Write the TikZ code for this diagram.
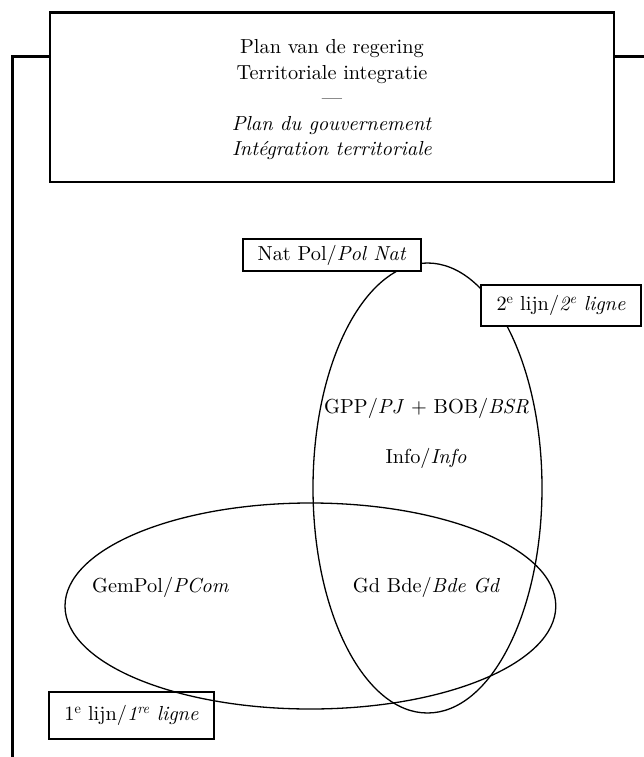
\documentclass[tikz,border=0pt]{standalone}
\usepackage{fontspec}
% the 10pt design of Latin Modern keeps its heavier strokes at large sizes
\setmainfont{lmroman10}[Extension=.otf, UprightFont=*-regular, ItalicFont=*-italic]
\usetikzlibrary{shapes.geometric}
\begin{document}
\begin{tikzpicture}[x=1pt,y=-1pt,
  every node/.style={font=\fontsize{20.3}{25.5}\selectfont, inner sep=0pt},
  frame/.style={draw, line width=2.6pt, outer sep=0pt, minimum width=564pt, minimum height=169.3pt},
  tag/.style={draw, line width=2.6pt},
  ring/.style={draw, ellipse, line width=1.3pt},
  link/.style={line width=2.6pt},
]
\useasboundingbox (0,0) rectangle (644,757);

% the two overlapping policy levels
\node[ring, minimum width=229pt, minimum height=450pt] (nat) at (427.5,488) {};
\node[ring, minimum width=490.8pt, minimum height=206pt] (gem) at (310.4,606) {};

% government plan heading box
\node[frame] (plan) at (332,97.35) {};
\node[align=center] (title) at (332,99.7) {Plan van de regering\\Territoriale integratie\\—\\\textit{Plan du gouvernement}\\\textit{Intégration territoriale}};

% bracket lines leaving the heading box
\coordinate (lt) at (12.3,56.7);
\coordinate (lb) at (12.3,757);
\coordinate (rt) at (644,56.7);
\draw[link] (plan.west |- lt) -- (lt) -- (lb);
\draw[link] (plan.east |- rt) -- (rt);

% level tags
\node[tag, fill=white, minimum width=178pt, minimum height=32pt] (natlbl) at (332,255) {Nat Pol/\textit{Pol Nat}};
\node[tag, fill=white, minimum width=160pt, minimum height=41pt] (second) at (561,305.5) {2\textsuperscript{e} lijn/\textit{2\textsuperscript{e} ligne}};
\node[tag, minimum width=165pt, minimum height=47pt] (first) at (131.5,715.5) {1\textsuperscript{e} lijn/\textit{1\textsuperscript{re} ligne}};

% services inside the ellipses
\node[anchor=base] (gpp) at (426.5,413) {GPP/\textit{PJ} + BOB/\textit{BSR}};
\node[anchor=base] (info) at (426,463) {Info/\textit{Info}};
\node[anchor=base] (gd) at (426.5,592) {Gd Bde/\textit{Bde Gd}};
\node[anchor=base] (gempol) at (160.5,592) {GemPol/\textit{PCom}};
\end{tikzpicture}
\end{document}
